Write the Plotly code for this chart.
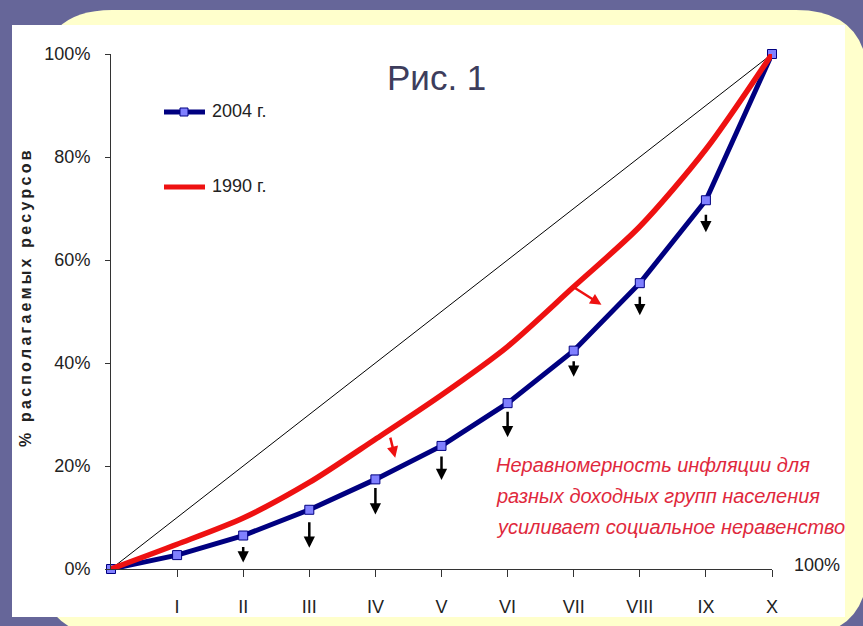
import plotly.graph_objects as go

# ---------------- data ----------------
deciles = list(range(11))
roman_labels = ["I", "II", "III", "IV", "V", "VI", "VII", "VIII", "IX", "X"]
share_2004 = [0, 2.7, 6.5, 11.5, 17.4, 23.9, 32.2, 42.4, 55.5, 71.6, 100]
share_1990 = [0, 4.8, 9.9, 16.8, 25.2, 33.8, 43.2, 54.8, 66.5, 81.5, 100]
equality = [0, 100]
y_ticks = [0, 20, 40, 60, 80, 100]
arrow_deciles = [2, 3, 4, 5, 6, 7, 8, 9]
series_names = ["2004 г.", "1990 г."]

W, H = 863, 626
L, R, T, B = 111, 91, 54, 57
PW, PH = W - L - R, H - T - B
BLUE, MARK, RED = "#000080", "#8080ff", "#ee1111"
FONT = "Liberation Sans, Arial"


def px(x):
    return (x - L) / PW


def py(y):
    return (H - B - y) / PH


fig = go.Figure()

fig.add_trace(go.Scatter(x=[deciles[0], deciles[-1]], y=equality, mode="lines",
                         line=dict(color="black", width=1), showlegend=False,
                         cliponaxis=False, hoverinfo="skip"))
fig.add_trace(go.Scatter(x=deciles, y=share_2004, mode="lines+markers", name=series_names[0],
                         line=dict(color=BLUE, width=5),
                         marker=dict(symbol="square", size=9, color=MARK,
                                     line=dict(color=BLUE, width=1)),
                         showlegend=False, cliponaxis=False))
fig.add_trace(go.Scatter(x=deciles, y=share_1990, mode="lines", name=series_names[1],
                         line=dict(color=RED, width=5.5, shape="spline", smoothing=0.8),
                         showlegend=False, cliponaxis=False))

# background shapes (pixel -> paper)
yl, yt, yr, yb, rad = 40, 10, 868, 636, 72
path = (f"M {px(yl)},{py(yt+rad)} Q {px(yl)},{py(yt)} {px(yl+rad)},{py(yt)} "
        f"L {px(yr-rad)},{py(yt)} Q {px(yr)},{py(yt)} {px(yr)},{py(yt+rad)} "
        f"L {px(yr)},{py(yb-rad)} Q {px(yr)},{py(yb)} {px(yr-rad)},{py(yb)} "
        f"L {px(yl+rad)},{py(yb)} Q {px(yl)},{py(yb)} {px(yl)},{py(yb-rad)} Z")
shapes = [
    dict(type="path", xref="paper", yref="paper", path=path, fillcolor="#ffffcc",
         line=dict(width=0), layer="below"),
    dict(type="rect", xref="paper", yref="paper", x0=px(12), x1=px(845), y0=py(617), y1=py(25),
         fillcolor="white", line=dict(width=0), layer="below"),
    # legend keys
    dict(type="line", xref="paper", yref="paper", x0=px(164), x1=px(205), y0=py(112), y1=py(112),
         line=dict(color=BLUE, width=5)),
    dict(type="rect", xref="paper", yref="paper", x0=px(180), x1=px(188), y0=py(116), y1=py(108),
         fillcolor=MARK, line=dict(color=BLUE, width=1)),
    dict(type="line", xref="paper", yref="paper", x0=px(164), x1=px(205), y0=py(187), y1=py(187),
         line=dict(color=RED, width=5)),
]

annotations = []
for name, yy in zip(series_names, [111, 186]):
    annotations.append(dict(x=px(210), y=py(yy), xref="paper", yref="paper", text=name,
                            xanchor="left", yanchor="middle", showarrow=False,
                            font=dict(family=FONT, size=18, color="#222222")))

# black arrows below 2004 markers
arrow_len = [17, 27, 28, 25, 27, 17, 20, 19]
arrow_gap = [27, 38, 35, 34, 34, 26, 32, 32]
for k, ln, gp in zip(arrow_deciles, arrow_len, arrow_gap):
    annotations.append(dict(x=deciles[k], y=share_2004[k], xref="x", yref="y",
                            yshift=-gp, ax=0, ay=-ln, showarrow=True, arrowhead=2,
                            arrowsize=0.9, arrowwidth=2.5, arrowcolor="black", text=""))
# red arrows
annotations.append(dict(x=4.30, y=21.6, ax=4.22, ay=25.8, xref="x", yref="y", axref="x", ayref="y",
                        showarrow=True, arrowhead=2, arrowsize=0.9, arrowwidth=2.5,
                        arrowcolor=RED, text=""))
annotations.append(dict(x=7.42, y=51.3, ax=6.99, ay=54.8, xref="x", yref="y", axref="x", ayref="y",
                        showarrow=True, arrowhead=2, arrowsize=0.9, arrowwidth=2.5,
                        arrowcolor=RED, text=""))

# texts
annotations.append(dict(x=px(436), y=py(77), xref="paper", yref="paper", text="Рис. 1",
                        xanchor="center", yanchor="middle", showarrow=False,
                        font=dict(family=FONT, size=35, color="#3d3d5c")))
ytitle = "\u2009".join(list("% располагаемых ресурсов"))
annotations.append(dict(x=px(25), y=py(299), xref="paper", yref="paper", text="<b>" + ytitle + "</b>",
                        xanchor="center", yanchor="middle",
                        textangle=-90, showarrow=False,
                        font=dict(family=FONT, size=16, color="#222222")))
annotations.append(dict(x=px(842), y=py(565), xref="paper", yref="paper", text="100%",
                        xanchor="right", yanchor="middle", showarrow=False,
                        font=dict(family=FONT, size=18, color="#222222")))
red_lines = ["Неравномерность инфляции для", "разных доходных групп населения",
             "усиливает социальное неравенство"]
for i, t in enumerate(red_lines):
    annotations.append(dict(x=px(494), y=py(465 + 31 * i), xref="paper", yref="paper", text="<i>" + t + "</i>",
                            xanchor="left", yanchor="middle", showarrow=False,
                            font=dict(family=FONT, size=20, color="#e0283c")))

fig.update_layout(
    width=W, height=H,
    margin=dict(l=L, r=R, t=T, b=B, autoexpand=False),
    paper_bgcolor="#666699", plot_bgcolor="rgba(0,0,0,0)",
    shapes=shapes, annotations=annotations,
    showlegend=False,
    xaxis=dict(range=[0, 10], tickvals=deciles[1:], ticktext=roman_labels, showgrid=False,
               zeroline=False, showline=True, linecolor="#333333", linewidth=1,
               ticks="outside", ticklen=7, tickcolor="#333333", ticklabelstandoff=14,
               tickfont=dict(family=FONT, size=18, color="#222222")),
    yaxis=dict(range=[0, 100], tickvals=y_ticks, ticktext=[f"{v}%" for v in y_ticks], showgrid=False,
               zeroline=False, showline=True, linecolor="#333333", linewidth=1,
               ticks="outside", ticklen=5, tickcolor="#333333", ticklabelstandoff=11,
               tickfont=dict(family=FONT, size=18, color="#222222")),
)

fig.write_html("out.html")
